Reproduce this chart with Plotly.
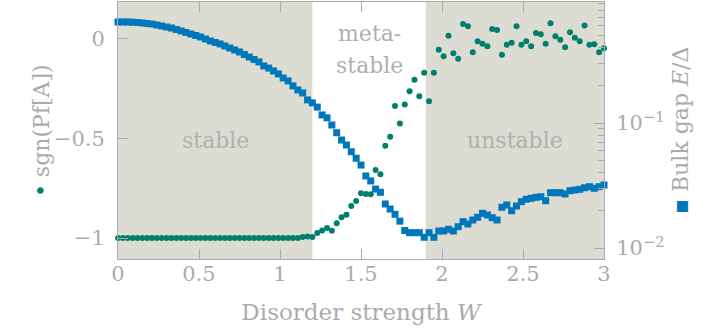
import plotly.graph_objects as go

# ---------------- data ----------------
W = [round(0.03 * i, 2) for i in range(101)]

sgn_pf = [-1.0] * 38 + [
    -0.995, -0.992, -0.995, -0.975, -0.962, -0.950, -0.9635, -0.925, -0.895, -0.8835,
    -0.8385, -0.8135, -0.775, -0.7785, -0.78, -0.6585, -0.68, -0.536, -0.491, -0.337,
    -0.425, -0.33, -0.2635, -0.205, -0.2885, -0.17, -0.3135, -0.17,
    -0.055, -0.087, 0.015, -0.072, -0.10, 0.075, 0.063, -0.067, -0.012, -0.025,
    -0.037, 0.05, 0.045, -0.08, -0.03, -0.02, 0.063, -0.03, -0.012, -0.037,
    0.03, 0.023, -0.025, 0.078, 0.013, -0.005, -0.042, 0.033, 0.005, -0.012,
    0.0665, -0.03, -0.027, -0.067, -0.047,
]

bulk_gap = [
    0.643, 0.643, 0.643, 0.640, 0.637, 0.631, 0.625, 0.619, 0.608, 0.597,
    0.586, 0.575, 0.560, 0.545, 0.530, 0.515, 0.501, 0.488, 0.470, 0.453,
    0.441, 0.429, 0.413, 0.398, 0.384, 0.370, 0.353, 0.337, 0.322, 0.308,
    0.286, 0.275, 0.261, 0.247, 0.229, 0.217, 0.198, 0.184, 0.174, 0.153,
    0.145, 0.134, 0.116, 0.110, 0.0964, 0.0836, 0.0731, 0.0667, 0.0589, 0.0522,
    0.0461, 0.0377, 0.0344, 0.0296, 0.0279, 0.0225, 0.0205, 0.0186, 0.0164, 0.0138,
    0.01326, 0.01326, 0.01326, 0.01218, 0.01326, 0.01218, 0.01368, 0.01368, 0.01411, 0.01368,
    0.01481, 0.01624, 0.01556, 0.01675, 0.01760, 0.01895, 0.01837, 0.01747, 0.01675, 0.02117,
    0.02208, 0.01988, 0.02168, 0.02346, 0.02452, 0.02497, 0.02544, 0.02572, 0.02390, 0.02769,
    0.02769, 0.02769, 0.02704, 0.02873, 0.02911, 0.02948, 0.03036, 0.03093, 0.03003, 0.03093,
    0.03192,
]

shaded_regions = [(0.0, 1.2), (1.9, 3.0)]
x_ticks = [0, 0.5, 1, 1.5, 2, 2.5, 3]
x_tick_labels = ["0", "0.5", "1", "1.5", "2", "2.5", "3"]
y_ticks = [-1, -0.5, 0]
y_tick_labels = ["\u22121", "\u22120.5", "0"]
y2_ticks = [0.01, 0.1]
y2_tick_labels = ["10<sup>\u22122</sup>", "10<sup>\u22121</sup>"]
y2_minor = [0.02, 0.03, 0.04, 0.05, 0.06, 0.07, 0.08, 0.09,
            0.2, 0.3, 0.4, 0.5, 0.6, 0.7, 0.8, 0.9]

# ---------------- style ----------------
GREEN = "#00806c"
BLUE = "#0077bb"
SHADE = "#dddcd3"
GREY = "#ababab"
FONT = "DejaVu Serif"

fig = go.Figure()
fig.add_trace(go.Scatter(
    x=W, y=sgn_pf, mode="markers", yaxis="y", cliponaxis=False,
    marker=dict(symbol="circle", size=6, color=GREEN), showlegend=False))
fig.add_trace(go.Scatter(
    x=W, y=bulk_gap, mode="markers", yaxis="y2", cliponaxis=False,
    marker=dict(symbol="square", size=7, color=BLUE), showlegend=False))

for x0, x1 in shaded_regions:
    fig.add_shape(type="rect", xref="x", yref="paper", x0=x0, x1=x1, y0=0, y1=1,
                  fillcolor=SHADE, line=dict(width=0), layer="below")

lab_font = dict(family=FONT, size=22, color="#b0b0b0")
fig.add_annotation(x=0.6, y=-0.51, xref="x", yref="y", text="stable",
                   showarrow=False, font=lab_font)
fig.add_annotation(x=1.55, y=0.027, xref="x", yref="y", text="meta-",
                   showarrow=False, font=lab_font)
fig.add_annotation(x=1.55, y=-0.133, xref="x", yref="y", text="stable",
                   showarrow=False, font=lab_font)
fig.add_annotation(x=2.45, y=-0.51, xref="x", yref="y", text="unstable",
                   showarrow=False, font=lab_font)

title_font = dict(family=FONT, size=22, color=GREY)
fig.add_annotation(
    x=-0.187, y=0.5, xref="paper", yref="paper", textangle=-90, showarrow=False,
    text=f"<span style='color:{GREEN}'>\u2022</span> sgn(Pf[A])", font=title_font)
fig.add_annotation(
    x=1.187, y=0.5, xref="paper", yref="paper", textangle=-90, showarrow=False,
    text=f"<span style='color:{BLUE}'>\u25aa</span> Bulk gap <i>E</i>/\u0394", font=title_font)

tick_font = dict(family=FONT, size=21, color=GREY)
fig.update_layout(
    width=707, height=331,
    margin=dict(l=118, r=103, t=2, b=72),
    paper_bgcolor="white", plot_bgcolor="white",
    xaxis=dict(range=[0, 3], tickvals=x_ticks, ticktext=x_tick_labels,
               ticks="inside", ticklen=10, tickcolor=GREY, showline=True,
               linecolor=GREY, linewidth=1, mirror="ticks", showgrid=False,
               zeroline=False, tickfont=tick_font, ticklabelstandoff=-4,
               title=dict(text="Disorder strength <i>W</i>",
                          font=dict(family=FONT, size=23, color=GREY), standoff=18)),
    yaxis=dict(range=[-1.105, 0.185], tickvals=y_ticks, ticktext=y_tick_labels,
               ticks="inside", ticklen=10, tickcolor=GREY, showline=True,
               linecolor=GREY, linewidth=1, showgrid=False, zeroline=False,
               tickfont=tick_font, ticklabelstandoff=8),
    yaxis2=dict(overlaying="y", side="right", type="log", range=[-2.088, -0.032],
                tickvals=y2_ticks, ticktext=y2_tick_labels, ticks="inside",
                ticklen=10, tickcolor=GREY, showline=True, linecolor=GREY,
                linewidth=1, showgrid=False, zeroline=False, tickfont=tick_font,
                ticklabelstandoff=7,
                minor=dict(tickmode="array", tickvals=y2_minor, ticks="inside",
                           ticklen=6, tickcolor=GREY, showgrid=False)),
)

fig.write_html("out.html")
